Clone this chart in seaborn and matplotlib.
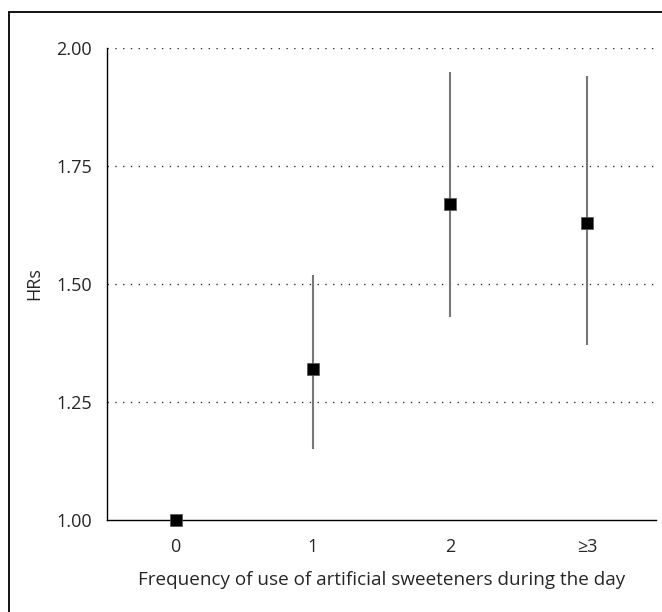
import seaborn as sns
import numpy as np
import matplotlib.pyplot as plt
import pandas as pd
from matplotlib.patches import Rectangle

categories = ["0", "1", "2", "\u22653"]
hr = [1.00, 1.32, 1.67, 1.63]
ci_low = [np.nan, 1.15, 1.43, 1.37]
ci_high = [np.nan, 1.52, 1.95, 1.94]
yticks = [1.00, 1.25, 1.50, 1.75, 2.00]

sns.set_style("white")
plt.rcParams["font.family"] = ["Open Sans", "DejaVu Sans"]

df = pd.DataFrame({"pos": np.arange(len(categories)), "hr": hr,
                   "lo": ci_low, "hi": ci_high})

fig = plt.figure(figsize=(6.62, 6.12), dpi=100)
ax = fig.add_axes([0.1616, 0.1503, 0.8294, 0.7713])

# dotted grid lines
for y in yticks[1:]:
    ax.axhline(y, color="#333333", linestyle=(0, (1, 4.6)), linewidth=1.0, zorder=0)

# confidence intervals
ci = df.dropna()
ax.vlines(ci["pos"], ci["lo"], ci["hi"], color="#777777", linewidth=1.5, zorder=2)

sns.scatterplot(data=df, x="pos", y="hr", marker="s", s=72, color="black",
                edgecolor="#555555", linewidth=0.5, ax=ax, zorder=3, clip_on=False)

fs = 13
ax.set_xlim(-0.5, 3.5)
ax.set_ylim(1.0, 2.0)
ax.set_yticks(yticks)
ax.set_yticklabels([f"{v:.2f}" for v in yticks], fontsize=fs)
ax.set_xticks(df["pos"])
ax.set_xticklabels(categories, fontsize=fs)
ax.set_xticks(np.arange(-0.5, 3.6, 1.0), minor=True)
ax.tick_params(axis="x", which="major", length=0, pad=13)
ax.tick_params(axis="x", which="minor", length=7, width=1.2, color="#666666", direction="out")
ax.tick_params(axis="y", which="major", length=6, width=1.0, color="black", direction="out", pad=5)

for s in ["top", "right"]:
    ax.spines[s].set_visible(False)
for s in ["left", "bottom"]:
    ax.spines[s].set_color("black")
    ax.spines[s].set_linewidth(1.0)

ax.set_xlabel("Frequency of use of artificial sweeteners during the day", fontsize=13.6, labelpad=11)
ax.set_ylabel("HRs", fontsize=fs, labelpad=9)

# outer frame
fig.patches.append(Rectangle((9 / 662, -0.05), 1.1, (612 - 12) / 612 + 0.05,
                             transform=fig.transFigure, fill=False,
                             edgecolor="black", linewidth=1.3))

fig.savefig("out.png", dpi=100)
